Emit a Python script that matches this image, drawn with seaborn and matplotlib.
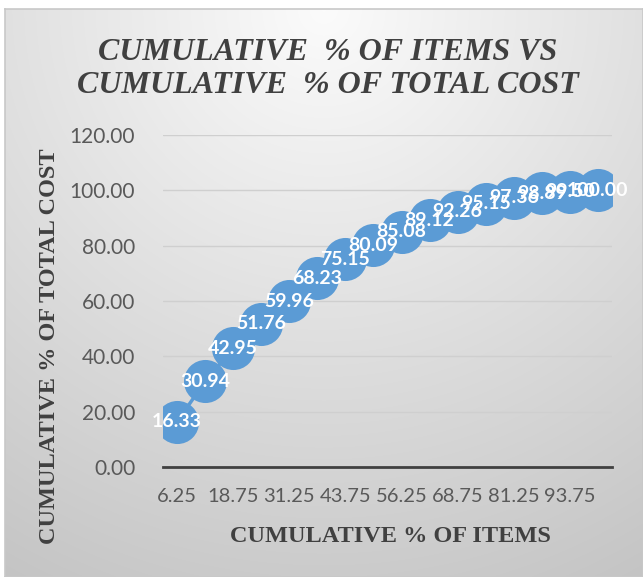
import numpy as np
import pandas as pd
import matplotlib
matplotlib.use("Agg")
import matplotlib.pyplot as plt
import seaborn as sns

# ---- data ----
items_pct = ["6.25", "12.5", "18.75", "25", "31.25", "37.5", "43.75", "50",
             "56.25", "62.5", "68.75", "75", "81.25", "87.5", "93.75", "100"]
cost_pct = [16.33, 30.94, 42.95, 51.76, 59.96, 68.23, 75.15, 80.09,
            85.08, 89.12, 92.26, 95.15, 97.36, 98.89, 99.50, 100.00]
y_ticks = [0, 20, 40, 60, 80, 100, 120]

title = "CUMULATIVE  % OF ITEMS VS\nCUMULATIVE  % OF TOTAL COST"
x_title = "CUMULATIVE % OF ITEMS"
y_title = "CUMULATIVE % OF TOTAL COST"

df = pd.DataFrame({"items": items_pct, "cost": cost_pct})

sns.set_theme(style="white")
plt.rcParams["font.family"] = ["Lato", "DejaVu Sans"]

W, H = 643, 577
fig = plt.figure(figsize=(W / 100, H / 100), dpi=100)

# background gradient panel
bg = fig.add_axes([5 / W, 0, 1 - 5 / W, 1 - 9 / H], zorder=-10)
yy, xx = np.mgrid[0:1:300j, 0:1:300j]
d = np.sqrt(((xx - 0.5) * 1.0) ** 2 + (yy * 0.9) ** 2)
d = np.clip(d / 1.05, 0, 1)
val = 0.985 - 0.22 * d
img = np.dstack([val, val, val])
bg.imshow(img, aspect="auto", extent=[0, 1, 1, 0], interpolation="bilinear")
bg.set_xlim(0, 1)
bg.set_ylim(1, 0)
bg.set_xticks([])
bg.set_yticks([])
for s in bg.spines.values():
    s.set_color("#c8c8c8")
    s.set_linewidth(1.2)

ax = fig.add_axes([163 / W, 1 - 467 / H, (612 - 163) / W, (467 - 135) / H])
ax.set_facecolor("none")

blue = "#5B9BD5"
sns.lineplot(data=df, x="items", y="cost", ax=ax, color=blue, linewidth=2.5,
             marker="o", markersize=31, markeredgewidth=0, sort=False, zorder=3)

for i, (c, v) in enumerate(zip(items_pct, cost_pct)):
    ax.text(i, v, f"{v:.2f}", ha="center", va="center", color="white",
            fontsize=14, fontweight="bold", zorder=5)

ax.set_xlim(-0.5, len(items_pct) - 0.5)
ax.set_ylim(0, 120)
ax.set_yticks(y_ticks)
ax.set_yticklabels([f"{t:.2f}" for t in y_ticks])
ax.set_xticks(range(0, len(items_pct), 2))
ax.set_xticklabels([items_pct[i] for i in range(0, len(items_pct), 2)])
ax.set_xticks(np.arange(-0.5, len(items_pct), 1.0), minor=True)
ax.tick_params(axis="x", which="major", length=0, pad=15, labelsize=14.5, labelcolor="#595959")
ax.tick_params(axis="x", which="minor", length=7, width=2, color="#404040", direction="out")
ax.tick_params(axis="y", length=0, pad=20, labelsize=15, labelcolor="#595959")

ax.grid(axis="y", color="#cfcfcf", linewidth=1)
ax.set_axisbelow(True)
for s in ["left", "right", "top"]:
    ax.spines[s].set_visible(False)
ax.spines["bottom"].set_color("#404040")
ax.spines["bottom"].set_linewidth(2)
ax.set_xlabel("")
ax.set_ylabel("")

fig.text(328 / W, 1 - 69 / H, title, ha="center", va="center",
         fontsize=23, fontweight="bold", fontstyle="italic", color="#404040",
         family="Liberation Serif", linespacing=1.2)
fig.text(390 / W, 1 - 537 / H, x_title, ha="center", va="center",
         fontsize=17.5, fontweight="bold", color="#404040", family="Liberation Serif")
fig.text(50 / W, 1 - 346 / H, y_title, ha="center", va="center", rotation=90,
         fontsize=17.5, fontweight="bold", color="#404040", family="Liberation Serif")

fig.savefig("out.png", dpi=100)
